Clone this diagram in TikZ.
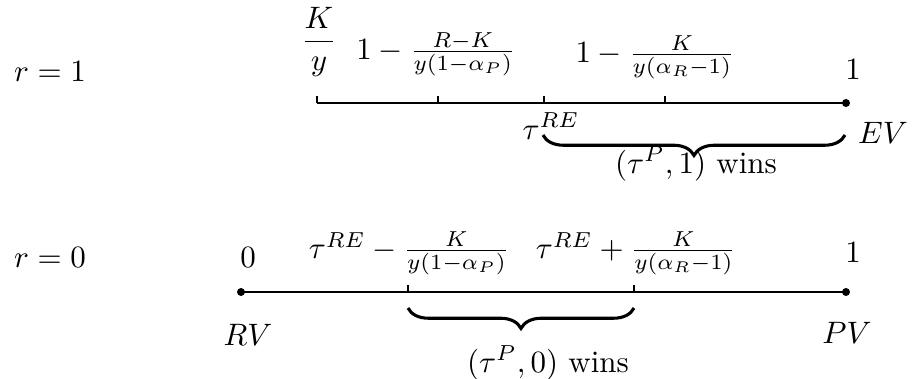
\documentclass[tikz,border=0pt]{standalone}
\usepackage{amsmath}
\usetikzlibrary{decorations.pathreplacing}
\begin{document}
\begin{tikzpicture}[x=0.3226pt,y=-0.3226pt,
  lbl/.style={inner sep=0pt,outer sep=0pt},
  axisline/.style={line width=0.4pt},
  tick/.style={line width=0.4pt},
  dotmark/.style={fill=black,draw=none},
  bracedec/.style={decorate,decoration={brace,mirror,amplitude=6.6pt},line width=1pt}]
\useasboundingbox (0,0) rectangle (914,379);
% row labels
\node[lbl] (r1) at (50,72) {$r=1$};
\node[lbl] (r0) at (50,258) {$r=0$};
% ---- top line (r=1)
\coordinate (a0) at (317,103);
\coordinate (a1) at (438,103);
\coordinate (a2) at (544,103);
\coordinate (a3) at (665,103);
\coordinate (a4) at (846,103);
\draw[axisline] (a0) -- (a4);
\draw[tick] (a0) -- ++(0,-7);
\draw[tick] (a1) -- ++(0,-7);
\draw[tick] (a2) -- ++(0,-7);
\draw[tick] (a3) -- ++(0,-7);
\fill[dotmark] (a4) circle (4);
\node[lbl] (ky) at (319,42) {$\dfrac{K}{y}$};
\node[lbl] (t1) at (436,54) {$1-\frac{R-K}{y(1-\alpha_P)}$};
\node[lbl] (t2) at (655,57) {$1-\frac{K}{y(\alpha_R-1)}$};
\node[lbl] (one1) at (853,70) {$1$};
\node[lbl] (tre) at (551,126) {$\tau^{RE}$};
\node[lbl] (ev) at (883,133) {$EV$};
\coordinate (b1s) at (543,135);
\coordinate (b1e) at (845,135);
\draw[bracedec] (b1s) -- (b1e);
\node[lbl] (w1) at (696,164) {$(\tau^P,1)$ wins};
% ---- bottom line (r=0)
\coordinate (c0) at (241,292);
\coordinate (c1) at (408,292);
\coordinate (c2) at (634,292);
\coordinate (c3) at (846,292);
\draw[axisline] (c0) -- (c3);
\draw[tick] (c1) -- ++(0,-7);
\draw[tick] (c2) -- ++(0,-7);
\fill[dotmark] (c0) circle (4);
\fill[dotmark] (c3) circle (4);
\node[lbl] (zero) at (248,258) {$0$};
\node[lbl] (one0) at (853,253) {$1$};
\node[lbl] (b3) at (409,253) {$\tau^{RE}-\frac{K}{y(1-\alpha_P)}$};
\node[lbl] (b4) at (636,253) {$\tau^{RE}+\frac{K}{y(\alpha_R-1)}$};
\node[lbl] (rv) at (248,335) {$RV$};
\node[lbl] (pv) at (847,333) {$PV$};
\coordinate (b2s) at (408,308);
\coordinate (b2e) at (634,308);
\draw[bracedec] (b2s) -- (b2e);
\node[lbl] (w0) at (548,363) {$(\tau^P,0)$ wins};
\end{tikzpicture}
\end{document}
